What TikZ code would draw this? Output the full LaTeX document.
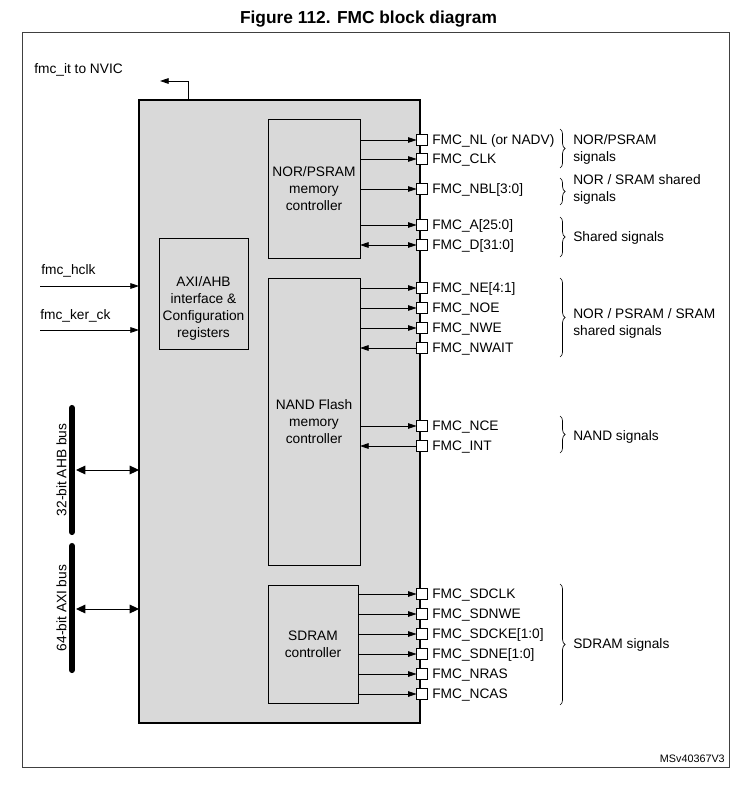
\documentclass[tikz,border=0pt]{standalone}
\usepackage{fontspec}
\setmainfont{Liberation Sans}
\usetikzlibrary{arrows.meta,decorations.pathreplacing,calc}
\definecolor{blockgray}{HTML}{D9D9D9}
\definecolor{framegray}{HTML}{404040}
\begin{document}
\begin{tikzpicture}[x=0.75pt,y=-0.75pt,
  txt/.style={font=\fontsize{10.3}{12.75}\selectfont, inner sep=0pt, text height=7.4pt, text depth=0pt},
  mtxt/.style={font=\fontsize{10.3}{12.75}\selectfont, inner sep=0pt, align=left},
  ctxt/.style={font=\fontsize{10.3}{12.75}\selectfont, inner sep=0pt, align=center},
  mainblk/.style={draw, fill=blockgray, line width=0.9pt, inner sep=0pt, outer sep=0pt, anchor=north west},
  ctrl/.style={draw, line width=0.6pt, inner sep=0pt, outer sep=0pt, anchor=north west},
  pin/.style={draw, fill=white, minimum size=8pt, inner sep=0pt, outer sep=0pt, line width=0.6pt},
  sig/.style={-{Triangle[length=6.5pt,width=4.2pt]}, line width=0.6pt},
  bsig/.style={{Triangle[length=6.5pt,width=4.2pt]}-{Triangle[length=6.5pt,width=4.2pt]}, line width=0.6pt},
  bussig/.style={{Triangle[length=7pt,width=6.5pt]}-{Triangle[length=7pt,width=6.5pt]}, line width=0.75pt},
  bus/.style={line width=4.6pt, line cap=round},
  brc/.style={decorate, decoration={brace, amplitude=3.8pt}, line width=0.5pt},
]
\useasboundingbox (0,0) rectangle (737,791);

% title and outer frame
\node[font=\fontsize{13}{15}\selectfont\bfseries, inner sep=0pt, anchor=base] (title) at (368.5,24) {Figure 112. FMC block diagram};
\draw[framegray, line width=0.75pt] (22,33) rectangle (729,767);
\node[font=\fontsize{8.1}{10}\selectfont, inner sep=0pt, anchor=base east] (ref) at (725,762) {MSv40367V3};

% FMC block and its internal controllers
\node[mainblk, minimum width=210.75pt, minimum height=467.25pt] (fmc) at (139,100) {};
\node[ctrl, minimum width=69pt, minimum height=104.25pt] (nor) at (268,119) {};
\node[ctxt] (nortxt) at (nor.center) {NOR/PSRAM\\memory\\controller};
\node[ctrl, minimum width=66.75pt, minimum height=83.25pt] (axi) at (159,238) {};
\node[ctxt] (axitxt) at (203.5,308) {AXI/AHB\\interface \&\\Configuration\\registers};
\node[ctrl, minimum width=69pt, minimum height=215.25pt] (nand) at (268,278) {};
\node[ctxt] (nandtxt) at (nand.center) {NAND Flash\\memory\\controller};
\node[ctrl, minimum width=67.5pt, minimum height=88.5pt] (sdram) at (268,585) {};
\node[ctxt] (sdramtxt) at (sdram.center) {SDRAM\\controller};

% interrupt output
\coordinate (itend) at (160,81);
\draw[sig] ($(fmc.north west)+(49,0)$) |- (itend);
\node[font=\fontsize{10.3}{12.75}\selectfont, inner sep=0pt, anchor=base west] (ittxt) at (34,74) {fmc\_it to NVIC};

% clock inputs
\coordinate (hclk) at (40,286);
\coordinate (kerck) at (40,330);
\draw[sig] (hclk) -- (hclk -| fmc.west);
\draw[sig] (kerck) -- (kerck -| fmc.west);
\node[font=\fontsize{10.3}{12.75}\selectfont, inner sep=0pt, anchor=base west] (hclktxt) at (41,275) {fmc\_hclk};
\node[font=\fontsize{10.3}{12.75}\selectfont, inner sep=0pt, anchor=base west] (kercktxt) at (40,319) {fmc\_ker\_ck};

% system buses
\coordinate (ahbtop) at (72,408);
\coordinate (ahbbot) at (72,532);
\coordinate (axitop) at (72,546);
\coordinate (axibot) at (72,670);
\draw[bus] (ahbtop) -- (ahbbot);
\draw[bus] (axitop) -- (axibot);
\node[txt, rotate=90] (ahbtxt) at (61.5,470) {32-bit AHB bus};
\node[txt, rotate=90] (axibtxt) at (61.5,608) {64-bit AXI bus};
\coordinate (ahbtap) at (76,470);
\coordinate (axitap) at (76,609);
\draw[bussig] (ahbtap) -- (ahbtap -| fmc.west);
\draw[bussig] (axitap) -- (axitap -| fmc.west);

% external pins
\foreach \n/\y/\t in {
  nl/140/FMC\_NL (or NADV), clk/159/FMC\_CLK, nbl/189/FMC\_NBL[3:0],
  a/225/FMC\_A[25:0], d/245/FMC\_D[31:0],
  ne/288/FMC\_NE[4:1], noe/308/FMC\_NOE, nwe/328/FMC\_NWE, nwait/348/FMC\_NWAIT,
  nce/426/FMC\_NCE, int/446/FMC\_INT,
  sdclk/594/FMC\_SDCLK, sdnwe/614/FMC\_SDNWE, sdcke/634/FMC\_SDCKE[1:0],
  sdne/654/FMC\_SDNE[1:0], nras/674/FMC\_NRAS, ncas/694/FMC\_NCAS}{
  \node[pin] (\n) at (422,\y) {};
  \node[txt, anchor=west] (\n txt) at (432,\y) {\t};
}

% signal connections
\foreach \n in {nl,clk,nbl,a}
  \draw[sig] (nor.east |- \n) -- (\n.west);
\draw[bsig] (nor.east |- d) -- (d.west);
\foreach \n in {ne,noe,nwe,nce}
  \draw[sig] (nand.east |- \n) -- (\n.west);
\foreach \n in {nwait,int}
  \draw[sig] (\n.west) -- (nand.east |- \n);
\foreach \n in {sdclk,sdnwe,sdcke,sdne,nras,ncas}
  \draw[sig] (sdram.east |- \n) -- (\n.west);

% signal groups
\draw[brc] (560,129) -- (560,168);
\draw[brc] (560,178) -- (560,205);
\draw[brc] (560,217) -- (560,257);
\draw[brc] (560,278) -- (560,357);
\draw[brc] (560,416) -- (560,453);
\draw[brc] (560,584) -- (560,705);
\node[mtxt, anchor=west] (g1) at (573,149.5) {NOR/PSRAM\\signals};
\node[mtxt, anchor=west] (g2) at (573,189.5) {NOR / SRAM shared\\signals};
\node[txt, anchor=west] (g3) at (573,237) {Shared signals};
\node[mtxt, anchor=west] (g4) at (573,323.5) {NOR / PSRAM / SRAM\\shared signals};
\node[txt, anchor=west] (g5) at (573,436) {NAND signals};
\node[txt, anchor=west] (g6) at (573,644) {SDRAM signals};
\end{tikzpicture}
\end{document}
